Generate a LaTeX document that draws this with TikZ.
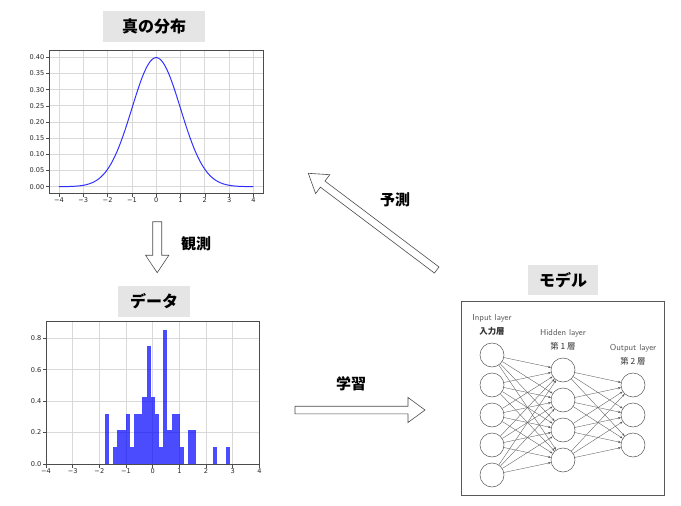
\documentclass[tikz,border=0pt]{standalone}
\usepackage{fontspec}
\setmainfont{DejaVu Sans}
\newfontfamily\jp{Noto Sans CJK JP}
\newfontfamily\tickfont{DejaVu Sans}
\usetikzlibrary{calc,arrows.meta}
\tikzset{
 titlebox/.style={fill=gray!20, inner sep=0pt, minimum height=31pt, font=\jp\bfseries\fontsize{16}{16}\selectfont, text=black},
 biglabel/.style={font=\jp\bfseries\fontsize{15}{15}\selectfont, text=black},
 gridline/.style={draw=gray!30, line width=0.7pt},
 spine/.style={draw=gray!60!black, line width=0.8pt},
 tickmark/.style={draw=gray!60!black, line width=0.6pt},
 ticklab/.style={font=\tickfont\fontsize{6.6}{7}\selectfont, text=black!85, inner sep=1pt},
 neuron/.style={circle, draw=gray!70!black, fill=white, minimum size=24pt, inner sep=0pt, line width=0.5pt},
 conn/.style={draw=gray!70!black, line width=0.35pt, -{Stealth[length=3pt,width=2.2pt]}},
 hollow/.style={draw=black!70, line width=0.6pt, fill=white, line join=miter},
 nnlab/.style={font=\sffamily\fontsize{8.6}{9}\selectfont, text=gray!70!black},
 nnjp/.style={font=\jp\fontsize{8.4}{9}\selectfont, text=black!80},
}
% hollow block arrow: #1 tail coord, #2 tip coord, #3 shaft half width, #4 head half width, #5 head length
\newcommand\hollowarrow[5]{%
 \coordinate (#1-h) at ($(#2)!#5!(#1)$);
 \draw[hollow] ($(#1)!#3!90:(#2)$) -- ($(#1-h)!#3!90:(#2)$) -- ($(#1-h)!#4!90:(#2)$) -- (#2)
   -- ($(#1-h)!#4!-90:(#2)$) -- ($(#1-h)!#3!-90:(#2)$) -- ($(#1)!#3!-90:(#2)$) -- cycle;
}
\begin{document}
\begin{tikzpicture}[x=1pt,y=-1pt]
\useasboundingbox (0,0) rectangle (681,506);
\fill[white] (0,0) rectangle (681,506);

% ===== top plot: true distribution =====
\node[titlebox, minimum width=102pt] (ttrue) at (154,26.5) {真の分布};
\foreach \t in {-4,...,4} \draw[gridline] ({156.2+24.3*\t},50) -- ({156.2+24.3*\t},193);
\foreach \v in {0.00,0.05,0.10,0.15,0.20,0.25,0.30,0.35,0.40} {
  \draw[gridline] (49,{186.7-323.5*\v}) -- (263,{186.7-323.5*\v});
  \draw[tickmark] (49,{186.7-323.5*\v}) -- (45.5,{186.7-323.5*\v});
  \node[ticklab, anchor=east] at (45.5,{186.7-323.5*\v}) {\v};
}
\foreach \t/\l in {-4/−4,-3/−3,-2/−2,-1/−1,0/0,1/1,2/2,3/3,4/4} {
  \draw[tickmark] ({156.2+24.3*\t},193) -- ({156.2+24.3*\t},196.5);
  \node[ticklab, anchor=north] at ({156.2+24.3*\t},196.5) {\l};
}
\draw[blue, line width=1pt, opacity=0.8] plot[domain=-4:4, samples=120, smooth] ({156.2+24.3*\x},{186.7-129.06*exp(-\x*\x/2)});
\draw[spine] (49,50) rectangle (263,193);

% ===== histogram =====
\node[titlebox, minimum width=72pt] (tdata) at (154,301.5) {データ};
\foreach \t in {-4,...,4} \draw[gridline] ({152.7+26.67*\t},321.7) -- ({152.7+26.67*\t},464);
\foreach \v in {0.0,0.2,0.4,0.6,0.8} {
  \draw[gridline] (46,{464-157.1*\v}) -- (259.3,{464-157.1*\v});
  \draw[tickmark] (46,{464-157.1*\v}) -- (42.5,{464-157.1*\v});
  \node[ticklab, anchor=east] at (42.5,{464-157.1*\v}) {\v};
}
\foreach \t/\l in {-4/−4,-3/−3,-2/−2,-1/−1,0/0,1/1,2/2,3/3,4/4} {
  \draw[tickmark] ({152.7+26.67*\t},464) -- ({152.7+26.67*\t},467.5);
  \node[ticklab, anchor=north] at ({152.7+26.67*\t},467.5) {\l};
}
\foreach \i/\k in {0/3,2/1,3/2,4/2,5/3,6/1,7/3,8/3,9/4,10/7,11/4,12/3,13/1,14/8,15/2,16/3,17/3,18/1,20/2,21/2,26/1,29/1}
  \fill[blue, fill opacity=0.7] ({105+4.157*\i},464) rectangle ({105+4.157*(\i+1)},{464-16.81*\k});
\draw[spine] (46,321.7) rectangle (259.3,464);

% ===== model =====
\node[titlebox, minimum width=70pt, minimum height=30pt] (tmodel) at (563,280) {モデル};
\draw[draw=gray!70!black, line width=0.8pt] (461.5,301.5) rectangle (664.5,495);
\node[nnlab] (lin) at (492,318) {Input layer};
\node[nnjp, font=\jp\bfseries\fontsize{8.4}{9}\selectfont] (lin2) at (492,331) {入力層};
\node[nnlab] (lhid) at (563,333) {Hidden layer};
\node[nnjp] (lhid2) at (563,346.5) {第 1 層};
\node[nnlab] (lout) at (633,348) {Output layer};
\node[nnjp] (lout2) at (633,361) {第 2 層};
\foreach \i in {1,...,5} \node[neuron] (in\i) at (492,{325+30*\i}) {};
\foreach \j in {1,...,4} \node[neuron] (hid\j) at (563,{340+30*\j}) {};
\foreach \k in {1,...,3} \node[neuron] (out\k) at (633,{355+30*\k}) {};
\foreach \i in {1,...,5} \foreach \j in {1,...,4} \draw[conn] (in\i) -- (hid\j);
\foreach \j in {1,...,4} \foreach \k in {1,...,3} \draw[conn] (hid\j) -- (out\k);

% ===== block arrows =====
\coordinate (obsA) at (157.2,221.7);
\coordinate (obsB) at (157.2,272.7);
\hollowarrow{obsA}{obsB}{4.5pt}{11.7pt}{17.5pt}
\node[biglabel] (lobs) at (196,243.5) {観測};

\coordinate (lrnA) at (295,410);
\coordinate (lrnB) at (425,410);
\hollowarrow{lrnA}{lrnB}{3.8pt}{12.5pt}{17pt}
\node[biglabel] (llrn) at (351,384) {学習};

\coordinate (prdA) at (436.7,270);
\coordinate (prdB) at (308.3,173.3);
\hollowarrow{prdA}{prdB}{3.8pt}{11.8pt}{18pt}
\node[biglabel] (lprd) at (395,199.5) {予測};
\end{tikzpicture}
\end{document}
